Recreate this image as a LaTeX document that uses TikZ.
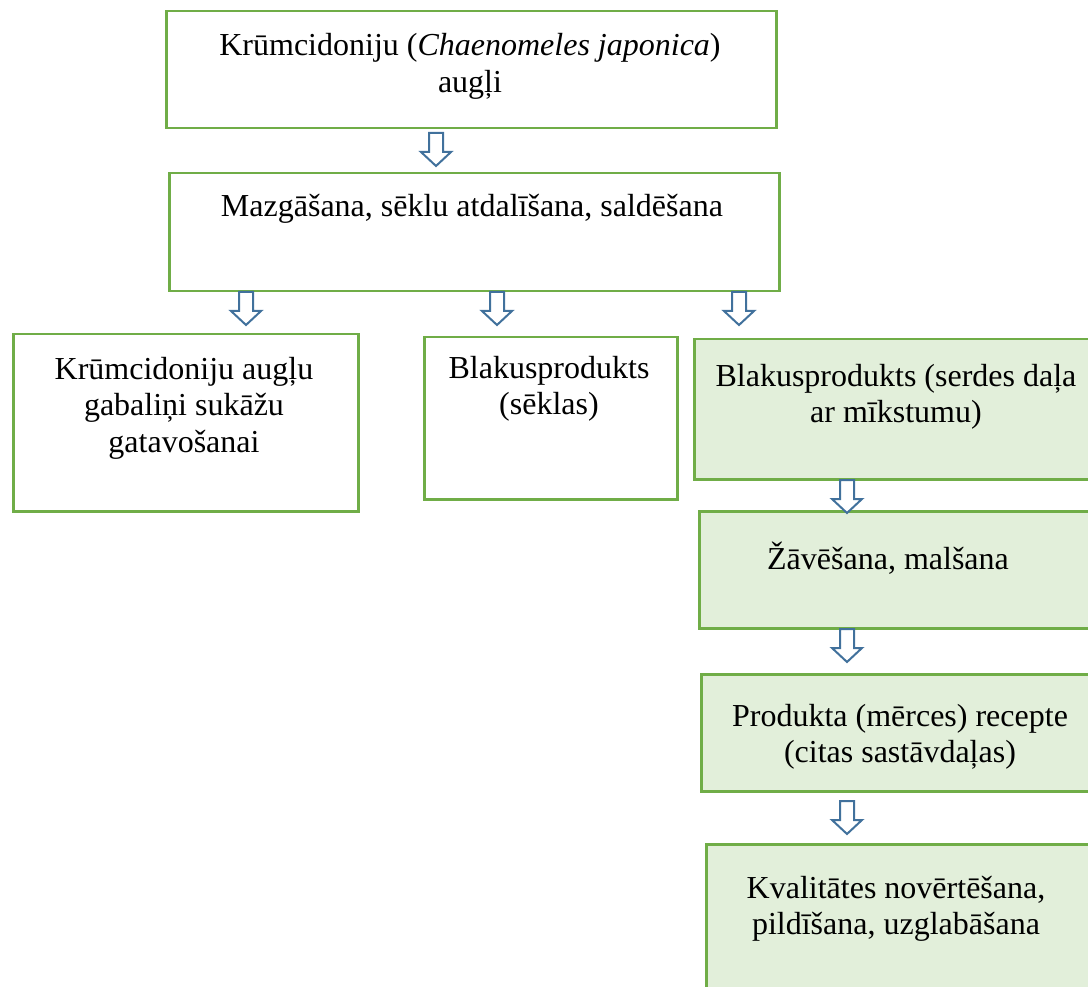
\documentclass[tikz,border=0pt]{standalone}
\usepackage{fontspec}
\setmainfont{Liberation Serif}
\definecolor{boxgreen}{HTML}{70AD47}
\definecolor{boxfill}{HTML}{E2EFDA}
\definecolor{arrblue}{HTML}{41719C}
\begin{document}
\begin{tikzpicture}[x=1pt,y=-1pt,
  plainbox/.style={draw=boxgreen,line width=2.5pt,fill=white},
  greenbox/.style={draw=boxgreen,line width=2.5pt,fill=boxfill},
  lbl/.style={font=\fontsize{32}{36.5}\selectfont,align=center,inner sep=0pt},
  arrowline/.style={draw=arrblue,line width=2pt,fill=white,line join=miter},
  downarr/.pic={\path[arrowline] (-7,0) -- (7,0) -- (7,19) -- (15,19) -- (0,33) -- (-15,19) -- (-7,19) -- cycle;}
]
\useasboundingbox (0,0) rectangle (1088,987);
\clip (0,0) rectangle (1088,987);
% boxes
\node[plainbox,minimum width=610pt,minimum height=117pt,anchor=north west] (b1) at (165,10) {};
\node[plainbox,minimum width=610pt,minimum height=118pt,anchor=north west] (b2) at (168,172) {};
\node[plainbox,minimum width=345pt,minimum height=177pt,anchor=north west] (b3) at (12,333) {};
\node[plainbox,minimum width=253pt,minimum height=162pt,anchor=north west] (b4) at (423,336) {};
\node[greenbox,minimum width=410pt,minimum height=140pt,anchor=north west] (b5) at (693,338) {};
\node[greenbox,minimum width=410pt,minimum height=117pt,anchor=north west] (b6) at (698,510) {};
\node[greenbox,minimum width=410pt,minimum height=117pt,anchor=north west] (b7) at (700,673) {};
\node[greenbox,minimum width=410pt,minimum height=170pt,anchor=north west] (b8) at (705,843) {};
% texts
\node[lbl] (t1) at (470,66.5) {Krūmcidoniju (\textit{Chaenomeles japonica})\\augļi};
\node[lbl] (t2) at (472,208.5) {Mazgāšana, sēklu atdalīšana, saldēšana};
\node[lbl] (t3) at (184,408) {Krūmcidoniju augļu\\gabaliņi sukāžu\\gatavošanai};
\node[lbl] (t4) at (549,389) {Blakusprodukts\\(sēklas)};
\node[lbl] (t5) at (896,397) {Blakusprodukts (serdes daļa\\ar mīkstumu)};
\node[lbl] (t6) at (888,558) {Žāvēšana, malšana};
\node[lbl] (t7) at (900,737) {Produkta (mērces) recepte\\(citas sastāvdaļas)};
\node[lbl] (t8) at (896,909) {Kvalitātes novērtēšana,\\pildīšana, uzglabāšana};
% block arrows
\coordinate (a1) at (436,133);
\coordinate (a2) at (246,292);
\coordinate (a3) at (497,292);
\coordinate (a4) at (739,292);
\coordinate (a5) at (847,480);
\coordinate (a6) at (847,629);
\coordinate (a7) at (847,801);
\foreach \a in {a1,a2,a3,a4,a5,a6,a7} {\pic at (\a) {downarr};}
\end{tikzpicture}
\end{document}
